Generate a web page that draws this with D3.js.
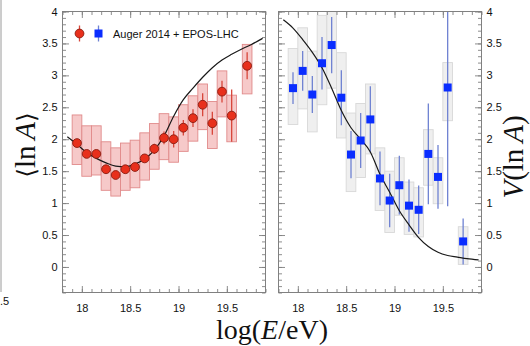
<!DOCTYPE html>
<html>
<head>
<meta charset="utf-8">
<script src="https://cdn.jsdelivr.net/npm/d3@7"></script>
<style>
  html, body { margin: 0; padding: 0; background: #fff; }
  svg { display: block; }
  .tick text { font-family: "Liberation Sans", Arial, sans-serif; font-size: 11px; fill: #111; }
</style>
</head>
<body>
<svg id="chart" width="530" height="346"></svg>
<script>
// ---------------- data ----------------
const energy = [17.95, 18.05, 18.15, 18.25, 18.35, 18.45, 18.55, 18.65, 18.75, 18.85, 18.95, 19.05, 19.15, 19.25, 19.35, 19.45, 19.55, 19.71];

// <ln A>, Auger 2014 + EPOS-LHC
const lnA      = [1.94, 1.77, 1.77, 1.53, 1.44, 1.53, 1.565, 1.70, 1.85, 2.02, 2.00, 2.18, 2.33, 2.54, 2.25, 2.745, 2.37, 3.15];
const lnAErr   = [0.03, 0.03, 0.03, 0.04, 0.04, 0.04, 0.05, 0.06, 0.08, 0.10, 0.13, 0.12, 0.14, 0.18, 0.18, 0.17, 0.41, 0.21];
const lnASysLo = [1.605, 1.42, 1.44, 1.20, 1.11, 1.20, 1.24, 1.36, 1.53, 1.68, 1.64, 1.81, 1.97, 2.15, 1.855, 2.35, 1.96, 2.71];
const lnASysHi = [2.38, 2.21, 2.21, 1.96, 1.865, 1.94, 1.985, 2.10, 2.245, 2.40, 2.35, 2.54, 2.68, 2.865, 2.59, 3.07, 2.69, 3.485];

// V(ln A)
const varLnA   = [2.80, 3.07, 2.70, 3.19, 3.475, 2.65, 1.76, 1.98, 2.31, 1.386, 1.04, 1.28, 0.96, 0.895, 1.77, 1.41, 2.81, 0.40];
const varErr   = [0.25, 0.31, 0.29, 0.41, 0.44, 0.43, 0.37, 0.43, 0.52, 0.42, 0.42, 0.46, 0.41, 0.38, 0.79, 0.50, 1.86, 0.36];
const varSysLo = [2.23, 2.475, 2.115, 2.54, 2.80, 2.02, 1.18, 1.40, 1.77, 0.885, 0.54, 0.81, 0.51, 0.47, 1.28, 0.99, 2.29, 0.04];
const varSysHi = [3.42, 3.745, 3.38, 3.94, 4.30, 3.355, 2.41, 2.56, 2.865, 1.865, 1.50, 1.71, 1.33, 1.24, 2.15, 1.71, 3.20, 0.63];

// model curves
const modelE   = [17.85, 17.95, 18.05, 18.15, 18.25, 18.35, 18.45, 18.55, 18.65, 18.75, 18.85, 18.95, 19.05, 19.15, 19.25, 19.35, 19.45, 19.55, 19.65, 19.75, 19.87];
const modelLnA = [2.04, 1.92, 1.79, 1.70, 1.63, 1.58, 1.57, 1.61, 1.69, 1.83, 2.05, 2.36, 2.62, 2.80, 2.97, 3.12, 3.24, 3.33, 3.41, 3.48, 3.58];
const modelVar = [3.87, 3.74, 3.56, 3.36, 3.12, 2.80, 2.45, 2.18, 2.00, 1.80, 1.45, 1.17, 0.88, 0.66, 0.46, 0.32, 0.23, 0.18, 0.155, 0.13, 0.11];

// ticks
const xTicks = [18, 18.5, 19, 19.5];
const yTicks = [0, 0.5, 1, 1.5, 2, 2.5, 3, 3.5, 4];
const xMinor = d3.range(178, 200).map(d => d / 10);
const yMinor = d3.range(-4, 41).map(d => d / 10);
const legendLabel = "Auger 2014 + EPOS-LHC";

// ---------------- drawing ----------------
const svg = d3.select("#chart");
const yTop = 11.5, yBot = 292.5;
const xDomain = [17.8, 19.9];
const yDomain = [-0.4, 4];
const frameColor = "#808080";

const panels = [
  { x0: 62.5, x1: 265.5, vals: lnA, err: lnAErr, lo: lnASysLo, hi: lnASysHi, model: modelLnA,
    boxFill: "#f6c9c9", boxStroke: "#e08a8a", errColor: "#d8463a", labelSide: "left" },
  { x0: 278.5, x1: 481.5, vals: varLnA, err: varErr, lo: varSysLo, hi: varSysHi, model: modelVar,
    boxFill: "#efefef", boxStroke: "#d8d8d8", errColor: "#6f82d2", labelSide: "right" }
];

panels.forEach((p, pi) => {
  const x = d3.scaleLinear().domain(xDomain).range([p.x0, p.x1]);
  const y = d3.scaleLinear().domain(yDomain).range([yBot, yTop]);
  const g = svg.append("g");
  const clipId = "clip" + pi;
  svg.append("defs").append("clipPath").attr("id", clipId)
    .append("rect").attr("x", p.x0).attr("y", yTop).attr("width", p.x1 - p.x0).attr("height", yBot - yTop);
  const plot = g.append("g").attr("clip-path", `url(#${clipId})`);

  // systematic boxes
  plot.selectAll("rect.sys").data(energy).join("rect")
    .attr("class", "sys")
    .attr("x", d => x(d - 0.05))
    .attr("width", d => x(d + 0.05) - x(d - 0.05))
    .attr("y", (d, i) => y(p.hi[i]))
    .attr("height", (d, i) => y(p.lo[i]) - y(p.hi[i]))
    .attr("fill", p.boxFill)
    .attr("stroke", p.boxStroke)
    .attr("stroke-width", 0.9);

  // stat error bars
  plot.selectAll("line.err").data(energy).join("line")
    .attr("class", "err")
    .attr("x1", d => x(d)).attr("x2", d => x(d))
    .attr("y1", (d, i) => y(p.vals[i] + p.err[i]))
    .attr("y2", (d, i) => y(p.vals[i] - p.err[i]))
    .attr("stroke", p.errColor)
    .attr("stroke-width", 1.3);

  // model curve
  const line = d3.line().x(d => x(d[0])).y(d => y(d[1])).curve(d3.curveMonotoneX);
  plot.append("path")
    .datum(modelE.map((e, i) => [e, p.model[i]]))
    .attr("d", line)
    .attr("fill", "none")
    .attr("stroke", "#1a1a1a")
    .attr("stroke-width", 1.2);

  // markers
  if (pi === 0) {
    plot.selectAll("circle.pt").data(energy).join("circle")
      .attr("class", "pt")
      .attr("cx", d => x(d))
      .attr("cy", (d, i) => y(p.vals[i]))
      .attr("r", 4.4)
      .attr("fill", "#e8301c")
      .attr("stroke", "#8a1c10")
      .attr("stroke-width", 0.9);
  } else {
    plot.selectAll("rect.pt").data(energy).join("rect")
      .attr("class", "pt")
      .attr("x", d => x(d) - 4)
      .attr("y", (d, i) => y(p.vals[i]) - 4)
      .attr("width", 8).attr("height", 8)
      .attr("fill", "#0a2dff");
  }

  // axes: minor ticks
  const minorX = (axis, ty) => g.append("g").attr("transform", `translate(0,${ty})`)
    .call(axis(x).tickValues(xMinor).tickSize(-3.5).tickFormat(""));
  minorX(d3.axisBottom, yBot);
  minorX(d3.axisTop, yTop);
  const minorY = (axis, tx) => g.append("g").attr("transform", `translate(${tx},0)`)
    .call(axis(y).tickValues(yMinor).tickSize(-3.5).tickFormat(""));
  minorY(d3.axisLeft, p.x0);
  minorY(d3.axisRight, p.x1);

  // major ticks
  g.append("g").attr("class", "xaxis").attr("transform", `translate(0,${yBot})`)
    .call(d3.axisBottom(x).tickValues(xTicks).tickSize(-6.5).tickPadding(12).tickFormat(d => String(d)));
  g.append("g").attr("transform", `translate(0,${yTop})`)
    .call(d3.axisTop(x).tickValues(xTicks).tickSize(-6.5).tickFormat(""));
  g.append("g").attr("transform", `translate(${p.x0},0)`)
    .call(d3.axisLeft(y).tickValues(yTicks).tickSize(-6.5).tickPadding(5)
      .tickFormat(p.labelSide === "left" ? (d => String(d)) : ""));
  g.append("g").attr("transform", `translate(${p.x1},0)`)
    .call(d3.axisRight(y).tickValues(yTicks).tickSize(-6.5).tickPadding(5)
      .tickFormat(p.labelSide === "right" ? (d => String(d)) : ""));

  g.selectAll(".domain").remove();
  g.selectAll(".tick line").attr("stroke", frameColor).attr("stroke-width", 0.9);

  // frame
  g.append("rect")
    .attr("x", p.x0).attr("y", yTop)
    .attr("width", p.x1 - p.x0).attr("height", yBot - yTop)
    .attr("fill", "none").attr("stroke", frameColor).attr("stroke-width", 1);

  // legend (left panel)
  if (pi === 0) {
    const ly = 33.5;
    const lg = g.append("g");
    lg.append("line").attr("x1", 79.5).attr("x2", 79.5).attr("y1", ly - 8).attr("y2", ly + 8)
      .attr("stroke", "#d8463a").attr("stroke-width", 1.3);
    lg.append("circle").attr("cx", 79.5).attr("cy", ly).attr("r", 4.4)
      .attr("fill", "#e8301c").attr("stroke", "#8a1c10").attr("stroke-width", 0.9);
    lg.append("line").attr("x1", 98.5).attr("x2", 98.5).attr("y1", ly - 8).attr("y2", ly + 8)
      .attr("stroke", "#6f82d2").attr("stroke-width", 1.3);
    lg.append("rect").attr("x", 94.5).attr("y", ly - 4).attr("width", 8).attr("height", 8)
      .attr("fill", "#0a2dff");
    lg.append("text").attr("x", 113).attr("y", ly + 4)
      .attr("font-family", "Liberation Sans, Arial, sans-serif").attr("font-size", 11)
      .attr("fill", "#111").text(legendLabel);
  }
});

// axis titles
const serif = "Liberation Serif, DejaVu Serif, Times New Roman, serif";
const tl = svg.append("text")
  .attr("transform", "translate(35,145) rotate(-90)")
  .attr("text-anchor", "middle")
  .attr("font-family", serif).attr("font-size", 29).attr("fill", "#111");
tl.append("tspan").attr("font-family", "DejaVu Serif, serif").attr("font-size", 25).text("\u27E8");
tl.append("tspan").text("ln\u2009");
tl.append("tspan").attr("font-style", "italic").text("A");
tl.append("tspan").attr("font-family", "DejaVu Serif, serif").attr("font-size", 25).text("\u27E9");

const tr = svg.append("text")
  .attr("transform", "translate(523,157) rotate(-90)")
  .attr("text-anchor", "middle")
  .attr("font-family", serif).attr("font-size", 29).attr("fill", "#111");
tr.append("tspan").attr("font-style", "italic").text("V");
tr.append("tspan").text("(ln\u2009");
tr.append("tspan").attr("font-style", "italic").text("A");
tr.append("tspan").text(")");

const tb = svg.append("text")
  .attr("x", 272).attr("y", 339)
  .attr("text-anchor", "middle")
  .attr("font-family", serif).attr("font-size", 28).attr("fill", "#111");
tb.append("tspan").text("log(");
tb.append("tspan").attr("font-style", "italic").text("E");
tb.append("tspan").text("/eV)");

// cropped neighbour artefact at left edge
svg.append("line").attr("x1", 1).attr("x2", 1).attr("y1", 0).attr("y2", 292)
  .attr("stroke", "#9a9a9a").attr("stroke-width", 1);
svg.append("text").attr("x", 0).attr("y", 305)
  .attr("font-family", "Liberation Sans, Arial, sans-serif").attr("font-size", 11)
  .attr("fill", "#111").text(".5");
</script>
</body>
</html>
